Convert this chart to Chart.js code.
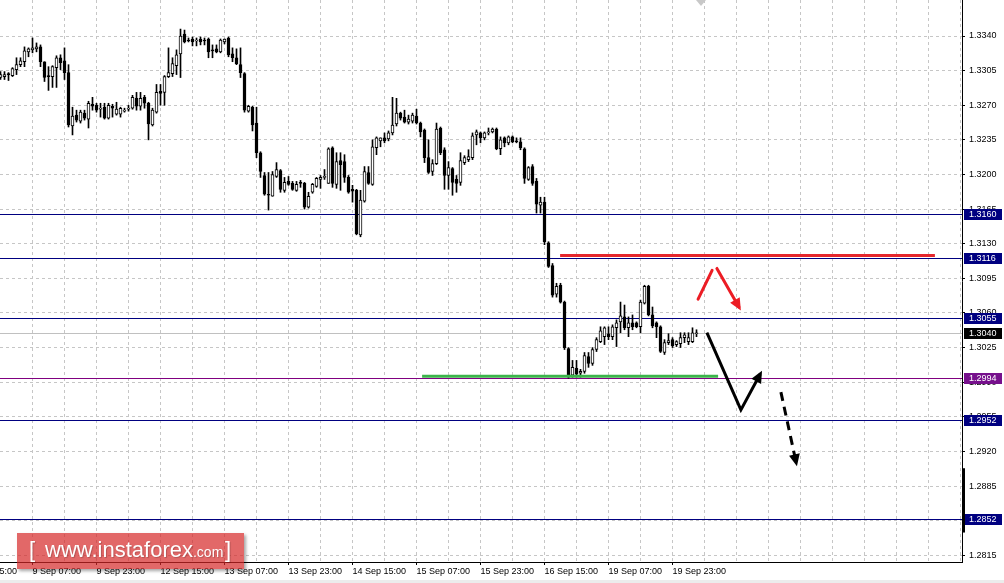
<!DOCTYPE html>
<html>
<head>
<meta charset="utf-8">
<script src="https://cdn.jsdelivr.net/npm/chart.js@4/dist/chart.umd.min.js"></script>
<style>
html, body { margin: 0; padding: 0; background: #fff; }
#wrap { position: relative; width: 1004px; height: 583px; overflow: hidden; }
#strip { position: absolute; left: 0; top: 580px; width: 1004px; height: 3px; background: #ececec; }
#logo {
    position: absolute; left: 17px; top: 533px; width: 227px; height: 36px;
    background: rgba(214, 40, 40, 0.7);
    box-shadow: 2px 2px 3px rgba(0, 0, 0, 0.35);
    color: #fff; font-family: "Liberation Sans", Arial, sans-serif; white-space: nowrap;
}
#logo span.p { position: absolute; top: 6px; font-size: 22px; line-height: 22px; text-shadow: 1px 1px 1px rgba(0,0,0,0.2); }
</style>
</head>
<body>
<div id="wrap">
    <canvas id="grafico" width="1004" height="583"></canvas>
    <div id="strip"></div>
    <div id="logo">
        <span class="p" style="left:12px">[</span>
        <span class="p" style="left:28px">www.instaforex<span style="font-size:14px">.com</span></span>
        <span class="p" style="left:208px">]</span>
    </div>
</div>
<script>
// Velas H1 (índice 0 = 8 Sep 23:00)
const opens = [
    1.3298,1.3299,1.3302,1.3300,1.3306,1.3311,1.3314,1.3324,1.3326,1.3327,
    1.3329,1.3314,1.3300,1.3299,1.3308,1.3318,1.3315,1.3303,1.3249,1.3260,
    1.3254,1.3262,1.3256,1.3271,1.3270,1.3266,1.3268,1.3257,1.3269,1.3261,
    1.3261,1.3264,1.3266,1.3267,1.3277,1.3269,1.3278,1.3272,1.3250,1.3263,
    1.3284,1.3283,1.3299,1.3302,1.3310,1.3322,1.3342,1.3336,1.3337,1.3335,
    1.3337,1.3336,1.3337,1.3326,1.3327,1.3324,1.3334,1.3338,1.3322,1.3318,
    1.3311,1.3302,1.3264,1.3268,1.3252,1.3222,1.3199,1.3180,1.3178,1.3198,
    1.3204,1.3184,1.3193,1.3191,1.3184,1.3192,1.3191,1.3167,1.3182,1.3188,
    1.3195,1.3197,1.3191,1.3227,1.3190,1.3214,1.3213,1.3197,1.3185,1.3184,
    1.3139,1.3173,1.3202,1.3190,1.3227,1.3234,1.3237,1.3236,1.3242,1.3251,
    1.3262,1.3258,1.3253,1.3254,1.3259,1.3252,1.3245,1.3217,1.3203,1.3211,
    1.3247,1.3225,1.3199,1.3206,1.3195,1.3192,1.3212,1.3215,1.3217,1.3240,
    1.3242,1.3237,1.3242,1.3243,1.3246,1.3226,1.3237,1.3232,1.3238,1.3234,
    1.3233,1.3226,1.3195,1.3208,1.3193,1.3169,1.3172,1.3131,1.3108,1.3079,
    1.3088,1.3071,1.3024,1.2997,1.3004,1.2999,1.3001,1.3016,1.3009,1.3023,
    1.3031,1.3036,1.3039,1.3036,1.3045,1.3051,1.3056,1.3045,1.3050,1.3050,
    1.3046,1.3070,1.3087,1.3058,1.3050,1.3046,1.3020,1.3030,1.3033,1.3028,
    1.3029,1.3035,1.3031,1.3031,1.3039
];
const highs = [
    1.3304,1.3304,1.3303,1.3308,1.3318,1.3318,1.3329,1.3328,1.3338,1.3333,
    1.3331,1.3314,1.3309,1.3310,1.3320,1.3321,1.3328,1.3311,1.3268,1.3265,
    1.3265,1.3265,1.3274,1.3278,1.3272,1.3272,1.3272,1.3272,1.3271,1.3273,
    1.3268,1.3267,1.3270,1.3280,1.3283,1.3283,1.3280,1.3273,1.3267,1.3291,
    1.3291,1.3300,1.3328,1.3318,1.3326,1.3347,1.3346,1.3338,1.3339,1.3338,
    1.3339,1.3338,1.3338,1.3331,1.3331,1.3337,1.3337,1.3339,1.3328,1.3327,
    1.3328,1.3303,1.3270,1.3269,1.3268,1.3223,1.3202,1.3202,1.3203,1.3212,
    1.3205,1.3197,1.3198,1.3193,1.3193,1.3194,1.3192,1.3182,1.3191,1.3197,
    1.3199,1.3205,1.3227,1.3228,1.3222,1.3222,1.3220,1.3199,1.3189,1.3185,
    1.3184,1.3208,1.3208,1.3235,1.3238,1.3237,1.3242,1.3244,1.3278,1.3277,
    1.3263,1.3265,1.3260,1.3262,1.3266,1.3253,1.3246,1.3235,1.3215,1.3252,
    1.3248,1.3227,1.3213,1.3207,1.3199,1.3222,1.3219,1.3225,1.3242,1.3245,
    1.3243,1.3243,1.3247,1.3247,1.3247,1.3238,1.3238,1.3239,1.3239,1.3237,
    1.3237,1.3227,1.3208,1.3210,1.3196,1.3177,1.3177,1.3132,1.3110,1.3090,
    1.3090,1.3072,1.3025,1.3012,1.3012,1.3003,1.3020,1.3020,1.3025,1.3035,
    1.3046,1.3046,1.3046,1.3048,1.3053,1.3071,1.3068,1.3056,1.3058,1.3051,
    1.3073,1.3088,1.3088,1.3066,1.3051,1.3047,1.3033,1.3039,1.3035,1.3032,
    1.3040,1.3040,1.3040,1.3045,1.3043
];
const lows = [
    1.3296,1.3296,1.3295,1.3299,1.3301,1.3309,1.3309,1.3319,1.3323,1.3324,
    1.3309,1.3294,1.3285,1.3288,1.3288,1.3306,1.3296,1.3248,1.3240,1.3253,
    1.3252,1.3255,1.3247,1.3265,1.3263,1.3258,1.3256,1.3256,1.3258,1.3260,
    1.3258,1.3263,1.3264,1.3266,1.3265,1.3265,1.3267,1.3235,1.3249,1.3262,
    1.3270,1.3270,1.3298,1.3299,1.3301,1.3298,1.3333,1.3334,1.3330,1.3330,
    1.3331,1.3331,1.3318,1.3318,1.3323,1.3323,1.3332,1.3319,1.3314,1.3311,
    1.3298,1.3263,1.3263,1.3244,1.3217,1.3197,1.3179,1.3164,1.3178,1.3197,
    1.3182,1.3182,1.3189,1.3184,1.3183,1.3187,1.3165,1.3166,1.3181,1.3187,
    1.3186,1.3195,1.3191,1.3187,1.3186,1.3184,1.3192,1.3181,1.3172,1.3139,
    1.3137,1.3172,1.3190,1.3189,1.3220,1.3228,1.3232,1.3234,1.3240,1.3249,
    1.3255,1.3252,1.3251,1.3252,1.3251,1.3238,1.3212,1.3201,1.3199,1.3210,
    1.3220,1.3185,1.3185,1.3179,1.3182,1.3189,1.3210,1.3213,1.3215,1.3230,
    1.3232,1.3235,1.3240,1.3242,1.3225,1.3220,1.3228,1.3230,1.3232,1.3232,
    1.3225,1.3191,1.3194,1.3189,1.3161,1.3161,1.3129,1.3106,1.3076,1.3076,
    1.3070,1.3023,1.2994,1.2995,1.2995,1.2995,1.2999,1.3005,1.3007,1.3021,
    1.3030,1.3028,1.3033,1.3033,1.3026,1.3040,1.3043,1.3036,1.3043,1.3045,
    1.3040,1.3069,1.3057,1.3045,1.3035,1.3020,1.3018,1.3028,1.3025,1.3026,
    1.3025,1.3030,1.3028,1.3030,1.3036
];
const closes = [
    1.3301,1.3301,1.3301,1.3307,1.3311,1.3315,1.3325,1.3327,1.3328,1.3329,
    1.3314,1.3298,1.3299,1.3309,1.3318,1.3313,1.3303,1.3250,1.3259,1.3255,
    1.3263,1.3257,1.3272,1.3269,1.3265,1.3267,1.3257,1.3270,1.3267,1.3266,
    1.3267,1.3265,1.3267,1.3278,1.3269,1.3277,1.3272,1.3251,1.3265,1.3283,
    1.3282,1.3299,1.3303,1.3312,1.3321,1.3340,1.3334,1.3335,1.3334,1.3336,
    1.3334,1.3335,1.3324,1.3325,1.3324,1.3336,1.3337,1.3321,1.3318,1.3312,
    1.3303,1.3265,1.3269,1.3250,1.3222,1.3203,1.3180,1.3179,1.3200,1.3205,
    1.3185,1.3192,1.3190,1.3185,1.3190,1.3191,1.3167,1.3178,1.3190,1.3196,
    1.3197,1.3198,1.3226,1.3191,1.3213,1.3210,1.3197,1.3182,1.3183,1.3140,
    1.3174,1.3203,1.3191,1.3228,1.3237,1.3237,1.3234,1.3242,1.3250,1.3262,
    1.3257,1.3253,1.3256,1.3260,1.3252,1.3243,1.3217,1.3202,1.3211,1.3246,
    1.3222,1.3199,1.3207,1.3192,1.3191,1.3214,1.3217,1.3218,1.3239,1.3243,
    1.3237,1.3242,1.3243,1.3246,1.3226,1.3235,1.3232,1.3238,1.3233,1.3233,
    1.3227,1.3196,1.3207,1.3191,1.3170,1.3172,1.3132,1.3107,1.3078,1.3087,
    1.3071,1.3025,1.2995,1.3005,1.2998,1.3001,1.3017,1.3009,1.3023,1.3033,
    1.3042,1.3045,1.3036,1.3046,1.3050,1.3057,1.3045,1.3050,1.3046,1.3046,
    1.3071,1.3087,1.3058,1.3047,1.3046,1.3021,1.3030,1.3032,1.3027,1.3031,
    1.3035,1.3038,1.3035,1.3040,1.3040
];

// Eixos
const priceTicks = [1.2815, 1.2850, 1.2885, 1.2920, 1.2955, 1.2990, 1.3025, 1.3060,
                    1.3095, 1.3130, 1.3165, 1.3200, 1.3235, 1.3270, 1.3305, 1.3340];
const timeTickIdx = [-8, 8, 24, 40, 56, 72, 88, 104, 120, 136, 152, 168];
const timeTickText = ['8 Sep 15:00', '9 Sep 07:00', '9 Sep 23:00', '12 Sep 15:00', '13 Sep 07:00',
                      '13 Sep 23:00', '14 Sep 15:00', '15 Sep 07:00', '15 Sep 23:00', '16 Sep 15:00',
                      '19 Sep 07:00', '19 Sep 23:00'];

// Níveis horizontais
const levels = [1.3160, 1.3116, 1.3055, 1.2952, 1.2852];
const supportLevel = 1.2994;
const bidPrice = 1.3040;
const scrollMark = [1.2838, 1.2903];

// Desenhos (índice da vela, preço)
const resistLine = [{x: 139.9, y: 1.3118}, {x: 233.6, y: 1.3118}];
const supportLine = [{x: 105.4, y: 1.2996}, {x: 179.4, y: 1.2996}];
const redUp = [{x: 174.4, y: 1.3074}, {x: 177.9, y: 1.3103}];
const redDown = [{x: 179.1, y: 1.3105}, {x: 184.6, y: 1.3066}];
const blackPath = [{x: 176.6, y: 1.3040}, {x: 185.1, y: 1.2962}, {x: 189.9, y: 1.2998}];
const dashedPath = [{x: 195.1, y: 1.2980}, {x: 198.9, y: 1.2909}];

const FONT = '"Liberation Sans", Arial, sans-serif';
const gridColor = '#c6c6c6';
const NAVY = '#000080';

const timeLabelMap = {};
timeTickIdx.forEach((v, i) => { timeLabelMap[v] = timeTickText[i]; });

const gridIdx = [-8];
for (let v = 8; v <= 240; v += 8) gridIdx.push(v);

// Linhas de nível, etiquetas de preço e setas
const mtPlugin = {
    id: 'mtExtras',
    beforeDatasetsDraw(chart) {
        const {ctx, chartArea: a, scales: {y}} = chart;
        const hline = (v, color) => {
            const py = Math.round(y.getPixelForValue(v)) + 0.5;
            ctx.strokeStyle = color;
            ctx.lineWidth = 1;
            ctx.beginPath();
            ctx.moveTo(a.left, py);
            ctx.lineTo(a.right, py);
            ctx.stroke();
        };
        ctx.save();
        hline(bidPrice, '#c0c0c0');
        levels.forEach(v => hline(v, NAVY));
        hline(supportLevel, '#800080');
        ctx.restore();
    },
    afterDatasetsDraw(chart) {
        const ctx = chart.ctx;
        chart.data.datasets.forEach((ds, i) => {
            if (!ds.arrowHead) return;
            const pts = chart.getDatasetMeta(i).data;
            const a = pts[pts.length - 2], b = pts[pts.length - 1];
            const ang = Math.atan2(b.y - a.y, b.x - a.x);
            const c = Math.cos(ang), s = Math.sin(ang);
            const tx = b.x + c * 4, ty = b.y + s * 4;
            const len = 12, half = 5.5;
            ctx.save();
            ctx.fillStyle = ds.borderColor;
            ctx.beginPath();
            ctx.moveTo(tx, ty);
            ctx.lineTo(tx - len * c + half * s, ty - len * s - half * c);
            ctx.lineTo(tx - len * c - half * s, ty - len * s + half * c);
            ctx.closePath();
            ctx.fill();
            ctx.restore();
        });
    },
    afterDraw(chart) {
        const {ctx, scales: {x, y}} = chart;
        const tag = (v, bg) => {
            const py = Math.round(y.getPixelForValue(v));
            ctx.fillStyle = bg;
            ctx.fillRect(y.left + 2, py - 5, 38, 11);
            ctx.fillStyle = '#fff';
            ctx.font = '9px ' + FONT;
            ctx.textAlign = 'left';
            ctx.textBaseline = 'middle';
            ctx.fillText(v.toFixed(4), y.left + 7, py + 0.5);
        };
        ctx.save();
        levels.forEach(v => tag(v, NAVY));
        tag(bidPrice, '#000000');
        tag(supportLevel, '#76108c');

        // marca preta na escala
        const y1 = y.getPixelForValue(scrollMark[1]);
        const y2 = y.getPixelForValue(scrollMark[0]);
        ctx.fillStyle = '#000';
        ctx.fillRect(y.left, y1, 3, y2 - y1);

        // marcador de deslocamento no topo
        const mx = Math.round(x.getPixelForValue(opens.length - 1)) + 4;
        ctx.fillStyle = '#c8c8c8';
        ctx.beginPath();
        ctx.moveTo(mx - 5, 0);
        ctx.lineTo(mx + 5, 0);
        ctx.lineTo(mx, 6);
        ctx.closePath();
        ctx.fill();
        ctx.restore();
    }
};

const lineSet = (data, color, width, extra) => Object.assign({
    type: 'line', data, borderColor: color, borderWidth: width,
    pointRadius: 0, fill: false, tension: 0, order: 1
}, extra || {});

new Chart(document.getElementById('grafico'), {
    type: 'bar',
    data: {
        datasets: [
            {
                label: 'sombras',
                data: lows.map((l, i) => ({x: i, y: [l, highs[i]]})),
                backgroundColor: '#000',
                borderWidth: 0,
                barThickness: 1,
                grouped: false,
                order: 10
            },
            {
                label: 'corpos',
                data: opens.map((o, i) => ({x: i, y: [o, closes[i]]})),
                backgroundColor: opens.map((o, i) => closes[i] >= o ? '#ffffff' : '#000000'),
                borderColor: '#000',
                borderWidth: 1,
                borderSkipped: false,
                barThickness: 3,
                grouped: false,
                order: 9
            },
            lineSet(resistLine, '#e5262c', 3),
            lineSet(supportLine, '#3cb44b', 3),
            lineSet(redUp, '#ec1c24', 3, {borderCapStyle: 'round'}),
            lineSet(redDown, '#ec1c24', 3, {borderCapStyle: 'round', arrowHead: true}),
            lineSet(blackPath, '#000000', 3, {borderJoinStyle: 'miter', arrowHead: true}),
            lineSet(dashedPath, '#000000', 3, {borderDash: [9, 6], arrowHead: true})
        ]
    },
    options: {
        responsive: false,
        animation: false,
        events: [],
        layout: { padding: 0 },
        plugins: { legend: { display: false }, tooltip: { enabled: false } },
        scales: {
            x: {
                type: 'linear',
                min: -0.125,
                max: 240.375,
                offset: false,
                grid: {
                    offset: false,
                    color: gridColor,
                    tickLength: 3,
                    tickColor: ctx => (ctx.tick && timeLabelMap[ctx.tick.value]) ? '#000' : 'rgba(0,0,0,0)'
                },
                border: { display: true, color: '#000', width: 1, dash: [3, 3] },
                ticks: {
                    autoSkip: false, maxRotation: 0, minRotation: 0,
                    align: 'start', padding: 1, color: '#000',
                    font: { family: FONT, size: 9 },
                    callback: v => timeLabelMap[v] || ''
                },
                afterBuildTicks: s => { s.ticks = gridIdx.map(v => ({value: v})); },
                afterFit: s => { s.height = 21; s.paddingLeft = 0; s.paddingRight = 0; }
            },
            y: {
                type: 'linear',
                position: 'right',
                min: 1.28082,
                max: 1.33764,
                beginAtZero: false,
                grid: { color: gridColor, tickLength: 3, tickColor: '#000' },
                border: { display: true, color: '#000', width: 1, dash: [3, 3] },
                ticks: {
                    autoSkip: false, padding: 4, color: '#000',
                    font: { family: FONT, size: 9 },
                    callback: v => Number(v).toFixed(4)
                },
                afterBuildTicks: s => { s.ticks = priceTicks.map(v => ({value: v})); },
                afterFit: s => { s.width = 42; s.paddingTop = 0; s.paddingBottom = 0; }
            }
        }
    },
    plugins: [mtPlugin]
});
</script>
</body>
</html>
